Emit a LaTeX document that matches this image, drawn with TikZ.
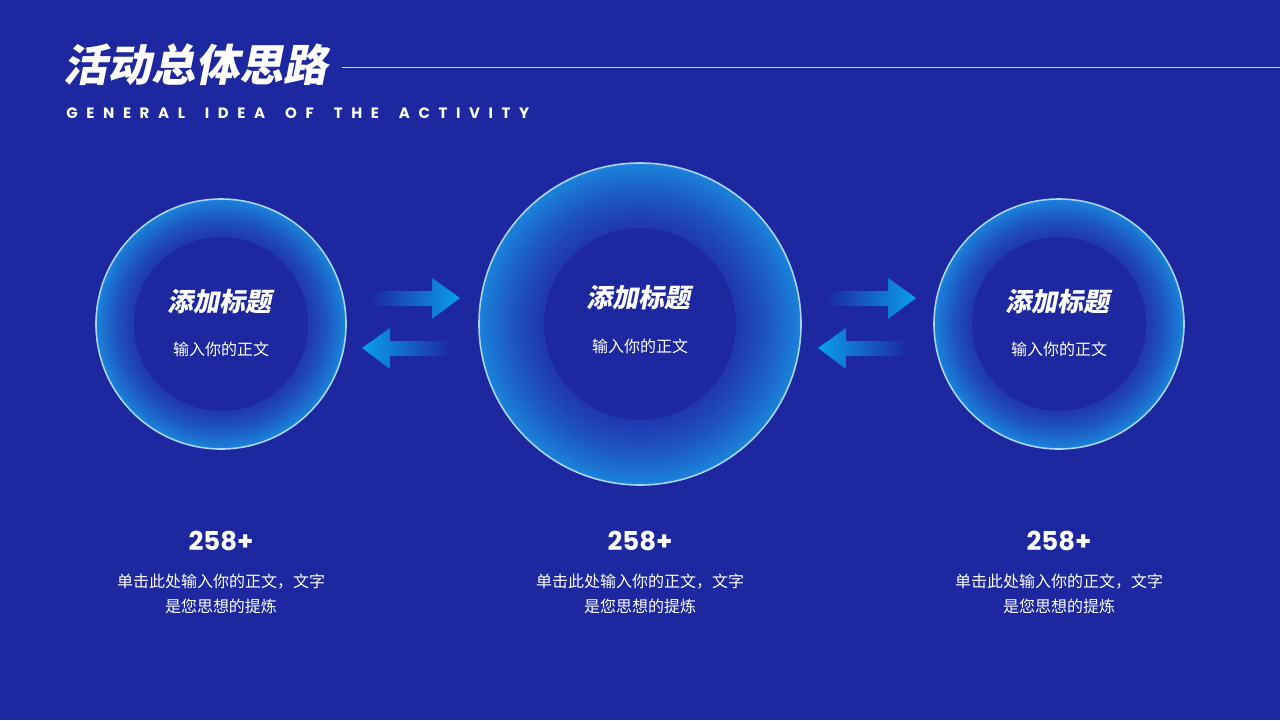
\documentclass[tikz,border=0pt]{standalone}
\usepackage{fontspec}
\setmainfont{Poppins}
\newfontfamily\cjk{Noto Sans CJK SC}
\newfontfamily\cjkb{Noto Sans CJK SC Black}
\usetikzlibrary{calc}
\definecolor{bg}{HTML}{1C27A0}
\definecolor{ringin}{HTML}{2038B0}
\definecolor{ringout}{HTML}{1A82DA}
\definecolor{edge}{HTML}{A8D4F4}
\definecolor{cyanar}{HTML}{0AA0EA}
\begin{document}
\begin{tikzpicture}[x=0.5pt,y=-0.5pt,
  ttl/.style={text=white,font=\cjkb\fontsize{13}{15}\selectfont,inner sep=0,xslant=0.2},
  sub/.style={text=white,font=\cjk\fontsize{8}{10}\selectfont,inner sep=0},
  num/.style={text=white,font=\bfseries\fontsize{13}{15}\selectfont,inner sep=0},
  desc/.style={text=white,font=\cjk\fontsize{8}{12.5}\selectfont,inner sep=0,align=center}]
\fill[bg] (0,0) rectangle (1280,720);
\useasboundingbox (0,0) rectangle (1280,720);
% title
\node[anchor=west,text=white,font=\cjkb\fontsize{22}{24}\selectfont,inner sep=0,xslant=0.2] (title) at (66,65) {活动总体思路};
\coordinate (l1) at (342,67); \coordinate (l2) at (1280,67);
\draw[edge!80,line width=0.5pt] (l1) -- (l2);
\node[anchor=west,text=white,font=\bfseries\fontsize{7.5}{9}\selectfont,inner sep=0] (subt) at (66,113) {G\hspace{4.3pt}E\hspace{4.3pt}N\hspace{4.3pt}E\hspace{4.3pt}R\hspace{4.3pt}A\hspace{4.3pt}L\hspace{10pt}I\hspace{4.3pt}D\hspace{4.3pt}E\hspace{4.3pt}A\hspace{10pt}O\hspace{4.3pt}F\hspace{10pt}T\hspace{4.3pt}H\hspace{4.3pt}E\hspace{10pt}A\hspace{4.3pt}C\hspace{4.3pt}T\hspace{4.3pt}I\hspace{4.3pt}V\hspace{4.3pt}I\hspace{4.3pt}T\hspace{4.3pt}Y};
% circles
\foreach \cx/\R/\r/\ty/\sy/\nm in {221/125/87/302/349/a,640/161/96/298/346/b,1059/125/87/302/349/c}{
  \foreach \i in {0,...,24}{
    \pgfmathsetmacro{\rad}{\R-(\R-\r)*\i/24}
    \pgfmathsetmacro{\pc}{100*(1-\i/24)^1.3}
    \fill[ringout!\pc!ringin] (\cx,324) circle[radius=\rad];
  }
  \draw[edge,line width=0.8pt] (\cx,324) circle[radius=\R];
  \fill[bg] (\cx,324) circle[radius=\r];
  \node[ttl] (t\nm) at (\cx,\ty) {添加标题};
  \node[sub] (s\nm) at (\cx,\sy) {输入你的正文};
  \node[num] (n\nm) at (\cx,541) {258+};
  \node[desc] (d\nm) at (\cx,594) {单击此处输入你的正文，文字\\是您思想的提炼};
}
% arrows
\foreach \x in {370,826}{
  \shade[left color=bg,right color=cyanar] (\x,291)--(\x+62,291)--(\x+62,278)--(\x+90,298)--(\x+62,319)--(\x+62,306)--(\x,306)--cycle;
  \shade[left color=cyanar,right color=bg] (\x+82,341)--(\x+20,341)--(\x+20,328)--(\x-8,348)--(\x+20,369)--(\x+20,356)--(\x+82,356)--cycle;
}
\end{tikzpicture}
\end{document}
